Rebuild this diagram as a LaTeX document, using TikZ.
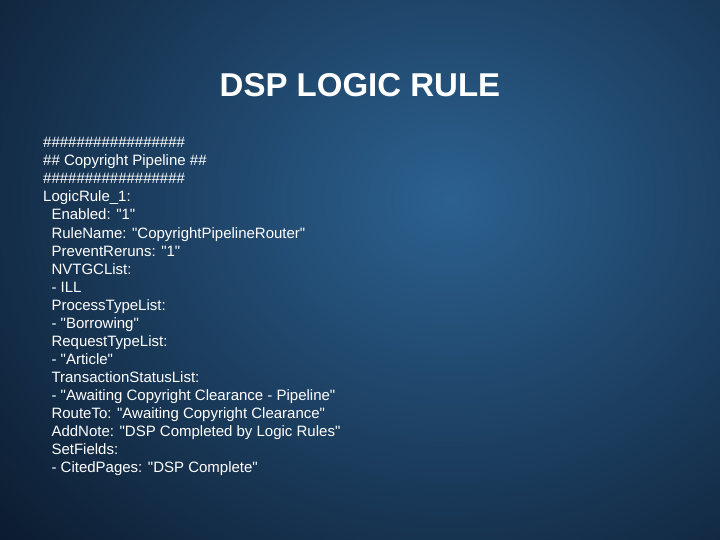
\documentclass[tikz,border=0pt]{standalone}
\usepackage{fontspec}
\setmainfont{Liberation Sans}
\newcommand{\q}{\textquotedbl}
\begin{document}
\begin{tikzpicture}[x=1pt,y=-1pt,
  ln/.style={anchor=base west,text=white,font=\fontsize{15}{18}\selectfont,inner sep=0pt}]
\definecolor{bgin}{HTML}{2C6190}
\definecolor{bgout}{HTML}{091628}
\useasboundingbox (0,0) rectangle (720,540);
\shade[inner color=bgin,outer color=bgout] (-200,-350) rectangle (1100,750);
\node[font=\bfseries\fontsize{33}{36}\selectfont,text=white] (title) at (360,85) {DSP LOGIC RULE};
\foreach \t [count=\i] in {
 {\#\#\#\#\#\#\#\#\#\#\#\#\#\#\#\#\#},
 {\#\# Copyright Pipeline \#\#},
 {\#\#\#\#\#\#\#\#\#\#\#\#\#\#\#\#\#},
 {LogicRule\_1:},
 {\ \ Enabled: \q1\q},
 {\ \ RuleName: \q CopyrightPipelineRouter\q},
 {\ \ PreventReruns: \q1\q},
 {\ \ NVTGCList:},
 {\ \ - ILL},
 {\ \ ProcessTypeList:},
 {\ \ - \q Borrowing\q},
 {\ \ RequestTypeList:},
 {\ \ - \q Article\q},
 {\ \ TransactionStatusList:},
 {\ \ - \q Awaiting Copyright Clearance - Pipeline\q},
 {\ \ RouteTo: \q Awaiting Copyright Clearance\q},
 {\ \ AddNote: \q DSP Completed by Logic Rules\q},
 {\ \ SetFields:},
 {\ \ - CitedPages: \q DSP Complete\q}}
 \node[ln] (l\i) at (43,{130+18*\i}) {\t};
\end{tikzpicture}
\end{document}
